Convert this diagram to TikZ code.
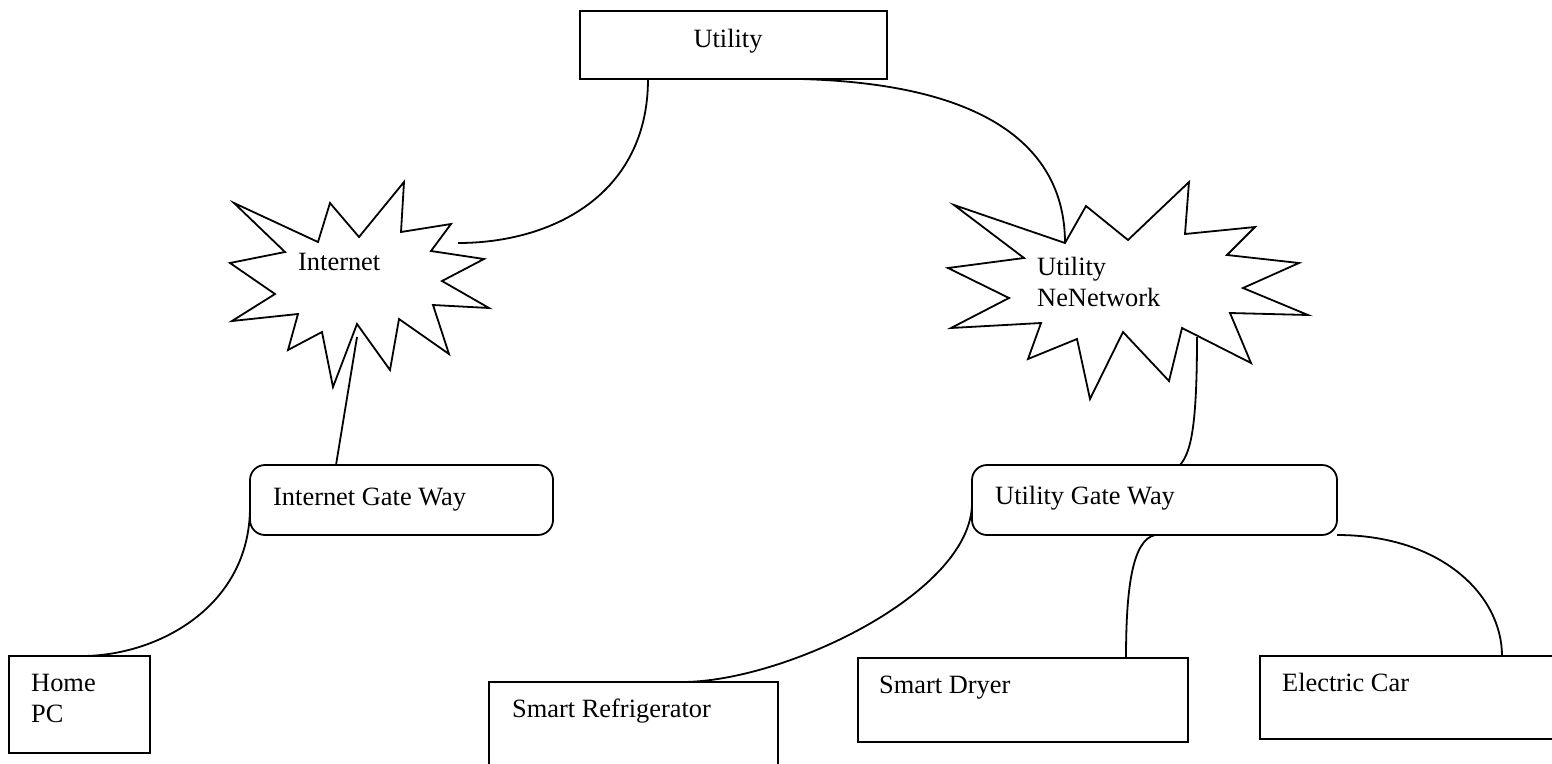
\documentclass[tikz,border=0pt]{standalone}
\usepackage{fontspec}
\setmainfont{Liberation Serif}
\begin{document}
\begin{tikzpicture}[x=1pt,y=-1pt,
  font=\fontsize{26.4}{31}\selectfont,
  box/.style={draw, line width=1.8pt, inner sep=0pt, outer sep=0pt, anchor=north west},
  rbox/.style={box, rounded corners=15pt},
  lbl/.style={anchor=base west, inner sep=0pt},
  conn/.style={line width=1.8pt},
  burst/.style={line width=1.8pt, line join=miter}]
\useasboundingbox (0,0) rectangle (1552,763);
\clip (0,0) rectangle (1552,763);

% boxes
\node[box, minimum width=307pt, minimum height=68pt] (utility) at (580,11) {};
\node[anchor=base, inner sep=0pt] (utilityT) at (728,47) {Utility};

\node[rbox, minimum width=303pt, minimum height=70pt] (igw) at (250,465) {};
\node[lbl] (igwT) at (273,505) {Internet Gate Way};

\node[rbox, minimum width=365pt, minimum height=70pt] (ugw) at (972,465) {};
\node[lbl] (ugwT) at (995,504) {Utility Gate Way};

\node[box, minimum width=141pt, minimum height=97pt] (homepc) at (9,656) {};
\node[lbl] (homeT) at (31,691) {Home};
\node[lbl] (pcT) at (31,722) {PC};

\node[box, minimum width=289pt, minimum height=130pt] (fridge) at (489,682) {};
\node[lbl] (fridgeT) at (512,717) {Smart Refrigerator};

\node[box, minimum width=330pt, minimum height=84pt] (dryer) at (858,658) {};
\node[lbl] (dryerT) at (879,693) {Smart Dryer};

\node[box, minimum width=330pt, minimum height=83pt] (car) at (1260,656) {};
\node[lbl] (carT) at (1282,691) {Electric Car};

% Internet starburst
\draw[burst] (234,203) -- (318,242) -- (330,203) -- (359,237) -- (404,182) -- (401,232)
  -- (451,224) -- (431,251) -- (484,259) -- (442,281) -- (489,308) -- (433,305)
  -- (449,354) -- (399,319) -- (390,370) -- (357,324) -- (333,387) -- (322,332)
  -- (288,350) -- (298,314) -- (232,321) -- (275,294) -- (230,263) -- (285,252) -- cycle;
\node[lbl] (inetT) at (298,270) {Internet};
\coordinate (inetR) at (458,243);
\coordinate (inetB) at (357,337);

% Utility network starburst
\draw[burst] (954,205) -- (1065,243) -- (1086,206) -- (1128,240) -- (1189,182) -- (1185,234)
  -- (1255,227) -- (1227,255) -- (1299,263) -- (1243,288) -- (1308,315) -- (1230,313)
  -- (1251,363) -- (1182,328) -- (1169,381) -- (1123,332) -- (1090,399) -- (1077,339)
  -- (1028,359) -- (1041,323) -- (951,328) -- (1009,298) -- (948,268) -- (1024,258) -- cycle;
\node[lbl] (unetT1) at (1037,275) {Utility};
\node[lbl] (unetT2) at (1037,306) {NeNetwork};
\coordinate (unetT) at (1065,243);
\coordinate (unetB) at (1197,337);

% connectors
\draw[conn] ([xshift=68pt]utility.south west) .. controls +(0,115) and +(95,0) .. (inetR);
\draw[conn] ([xshift=220pt]utility.south west) .. controls +(195,5) and +(0,-90) .. (unetT);
\draw[conn] (inetB) -- ([xshift=86pt]igw.north west);
\draw[conn] ([yshift=-42pt]igw.north west) .. controls +(0,100) and +(75,0) .. ([xshift=73pt]homepc.north west);
\draw[conn] (unetB) .. controls +(0,95) and +(10,-12) .. ([xshift=208pt]ugw.north west);
\draw[conn] ([yshift=-38pt]ugw.north west) .. controls +(0,90) and +(102,0) .. ([xshift=193pt]fridge.north west);
\draw[conn] ([xshift=183pt]ugw.south west) .. controls +(-23,5) and +(0,-68) .. ([xshift=268pt]dryer.north west);
\draw[conn] (ugw.south east) .. controls +(104,0) and +(0,-61) .. ([xshift=242pt]car.north west);
\end{tikzpicture}
\end{document}
